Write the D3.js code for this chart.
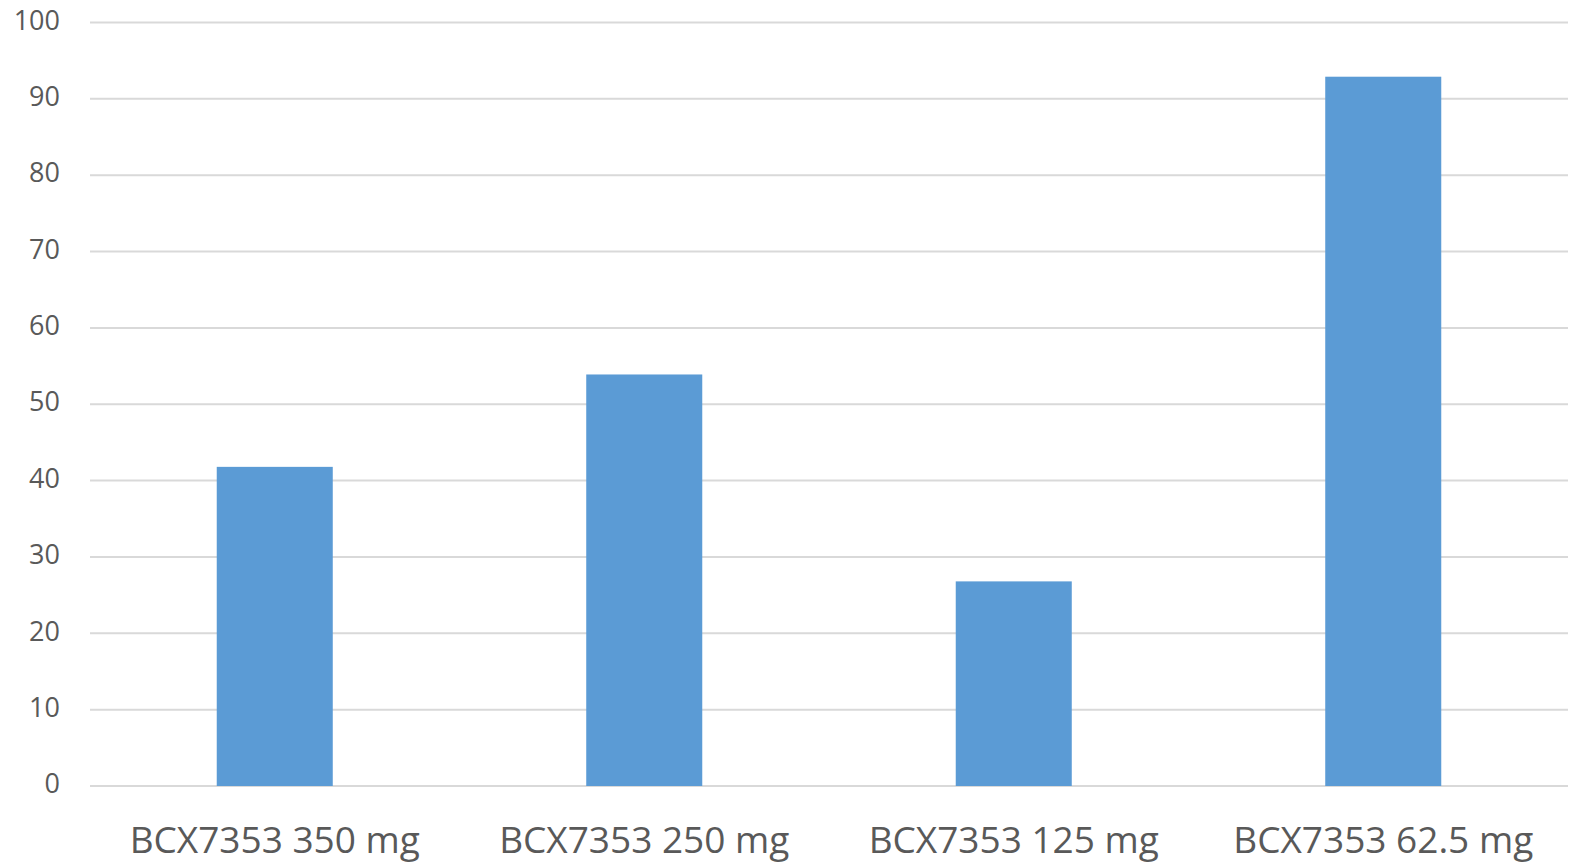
<!DOCTYPE html>
<html><head><meta charset="utf-8">
<script src="https://cdn.jsdelivr.net/npm/d3@7"></script>
<style>body{margin:0;background:#fff}svg{display:block}</style>
</head><body>
<svg id="chart" width="1569" height="863"></svg>
<script>
const categories = ["BCX7353 350 mg","BCX7353 250 mg","BCX7353 125 mg","BCX7353 62.5 mg"];
const values = [41.8, 53.9, 26.8, 92.9];
const yTicks = [0,10,20,30,40,50,60,70,80,90,100];

(function(){
const svg = d3.select("#chart");
const mLeft = 90, mRight = 1568, mTop = 22.5, mBottom = 786;
const x = d3.scaleBand().domain(categories).range([mLeft, mRight]).paddingInner(0.686).paddingOuter(0.343);
const y = d3.scaleLinear().domain([0,100]).range([mBottom, mTop]);

svg.append("g").selectAll("line").data(yTicks).join("line")
  .attr("x1", mLeft).attr("x2", mRight)
  .attr("y1", d => y(d)).attr("y2", d => y(d))
  .attr("stroke", "#d9d9d9").attr("stroke-width", 2);

svg.append("g").selectAll("rect").data(values).join("rect")
  .attr("x", (d,i) => x(categories[i]))
  .attr("width", x.bandwidth())
  .attr("y", d => y(d))
  .attr("height", d => y(0) - y(d))
  .attr("fill", "#5b9bd5");

svg.append("g").selectAll("text").data(yTicks).join("text")
  .attr("x", 60).attr("y", d => y(d))
  .attr("text-anchor", "end").attr("dominant-baseline", "middle")
  .attr("font-family", "Open Sans").attr("font-size", 27).attr("fill", "#595959")
  .text(d => d);

svg.append("g").selectAll("text").data(categories).join("text")
  .attr("x", d => x(d) + x.bandwidth()/2).attr("y", 853)
  .attr("text-anchor", "middle")
  .attr("font-family", "Open Sans").attr("font-size", 37).attr("fill", "#595959")
  .text(d => d);
})();
</script>
</body></html>
